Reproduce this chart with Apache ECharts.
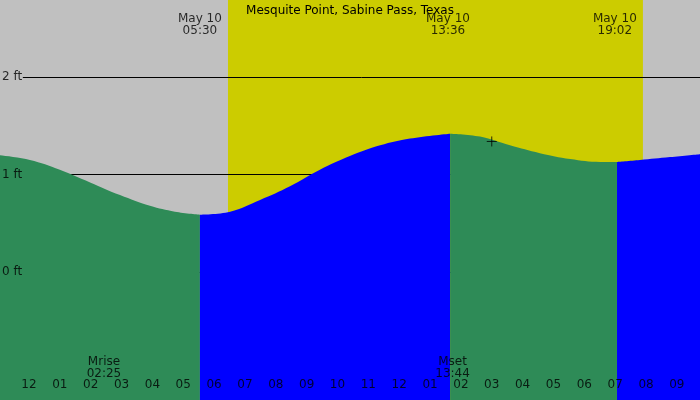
<!DOCTYPE html>
<html>
<head>
<meta charset="utf-8">
<script src="https://cdn.jsdelivr.net/npm/echarts@6/dist/echarts.min.js"></script>
<style>html,body{margin:0;padding:0;background:#c0c0c0}</style>
</head>
<body>
<div id="main" style="width:700px;height:400px"></div>
<script>
// tide readings (hour of day, feet)
var fall1Hours = [-1, 0.03, 1.0, 1.98, 2.95, 3.92, 4.73, 5.54];
var fall1Feet  = [1.2, 1.15, 1.05, 0.92, 0.79, 0.68, 0.62, 0.59];
var rise1Hours = [5.54, 6.52, 7.49, 8.46, 9.43, 10.40, 11.38, 12.35, 13.65];
var rise1Feet  = [0.59, 0.62, 0.74, 0.88, 1.05, 1.19, 1.30, 1.37, 1.42];
var fall2Hours = [13.65, 14.62, 15.59, 16.56, 17.54, 18.51, 19.06];
var fall2Feet  = [1.42, 1.39, 1.30, 1.22, 1.16, 1.13, 1.13];
var rise2Hours = [19.06, 19.80, 20.78, 21.75];
var rise2Feet  = [1.13, 1.15, 1.18, 1.21];
var sunHours = [6.45, 19.9];
var tickHours = [-1, 0, 1, 2, 3, 4, 5, 6, 7, 8, 9, 10, 11, 12, 13, 14, 15, 16, 17, 18, 19, 20, 21];
var tickLabels = ['11', '12', '01', '02', '03', '04', '05', '06', '07', '08', '09', '10', '11', '12', '01', '02', '03', '04', '05', '06', '07', '08', '09'];
var levelFeet = [0, 1, 2];
var levelLabels = ['0 ft', '1 ft', '2 ft'];
var topHours = [5.54, 13.58, 18.99];
var topLabels = ['May 10\n05:30', 'May 10\n13:36', 'May 10\n19:02'];
var moonHours = [2.43, 13.73];
var moonLabels = ['Mrise\n02:25', 'Mset\n13:44'];
var marker = [15.0, 1.34];

var X0 = -0.94, X1 = 21.75, Y0 = -1.31, Y1 = 2.79;
var lbl = { color: '#000', fontSize: 12, fontFamily: 'DejaVu Sans', lineHeight: 12 };

function pts(h, f) { return h.map(function (v, i) { return [v, f[i]]; }); }
function water(h, f, color) {
  return { type: 'line', smooth: 0.4, symbol: 'none', z: 5, data: pts(h, f),
    lineStyle: { width: 0 }, areaStyle: { color: color, opacity: 1, origin: 'start' } };
}
function textSeries(xs, ys, texts, pos, dist, z) {
  return { type: 'scatter', symbolSize: 0, z: z, silent: true,
    data: xs.map(function (x, i) { return { value: [x, ys[i]], label: { formatter: texts[i] } }; }),
    label: Object.assign({ show: true, position: pos, distance: dist }, lbl) };
}
function fill(v, n) { var a = []; for (var i = 0; i < n; i++) a.push(v); return a; }

var myChart = echarts.init(document.getElementById('main'));
var option = {
  backgroundColor: '#c0c0c0',
  animation: false,
  title: { text: 'Mesquite Point, Sabine Pass, Texas', left: 'center', top: 0,
    textStyle: { color: '#000', fontSize: 12, fontWeight: 'normal', fontFamily: 'DejaVu Sans' } },
  grid: { left: 0, right: 0, top: 0, bottom: 0 },
  xAxis: { type: 'value', min: X0, max: X1, show: false },
  yAxis: { type: 'value', min: Y0, max: Y1, show: false },
  series: [
    { type: 'line', data: [], z: 1,
      markArea: { silent: true, itemStyle: { color: '#cccc00' }, data: [[{ xAxis: sunHours[0] }, { xAxis: sunHours[1] }]] } },
    { type: 'line', data: [], z: 2,
      markLine: { silent: true, symbol: 'none', label: { show: false }, lineStyle: { color: '#000', width: 1, type: 'solid' },
        data: levelFeet.map(function (l) { return [{ coord: [-0.2, l] }, { coord: [X1, l] }]; }) } },
    water(fall1Hours, fall1Feet, '#2e8b57'),
    water(rise1Hours, rise1Feet, '#0000ff'),
    water(fall2Hours, fall2Feet, '#2e8b57'),
    water(rise2Hours, rise2Feet, '#0000ff'),
    { type: 'scatter', z: 8, symbol: 'path://M5,0L5,10M0,5L10,5', symbolSize: 10,
      itemStyle: { color: 'none', borderColor: '#000', borderWidth: 1 }, data: [marker] },
    { type: 'line', data: [], z: 8,
      markLine: { silent: true, symbol: 'none', label: { show: false }, lineStyle: { color: '#000', width: 1, type: 'solid' },
        data: tickHours.map(function (h) { return [{ coord: [h, Y0], lineStyle: { width: h === 0 ? 3 : 1 } }, { coord: [h, -1.23] }]; })
          .concat(moonHours.map(function (m) { return [{ coord: [m, Y0], lineStyle: { color: '#ff0000' } }, { coord: [m, -1.23] }]; })) } },
    textSeries(tickHours, fill(-1.225, tickHours.length), tickLabels, 'top', 1, 9),
    textSeries(fill(X0, levelFeet.length), levelFeet, levelLabels, 'right', 2, 9),
    textSeries(topHours, fill(Y1, topHours.length), topLabels, 'bottom', 13, 9),
    textSeries(moonHours, fill(-1.10, moonHours.length), moonLabels, 'top', 0, 9)
  ]
};
myChart.setOption(option);
</script>
</body>
</html>
